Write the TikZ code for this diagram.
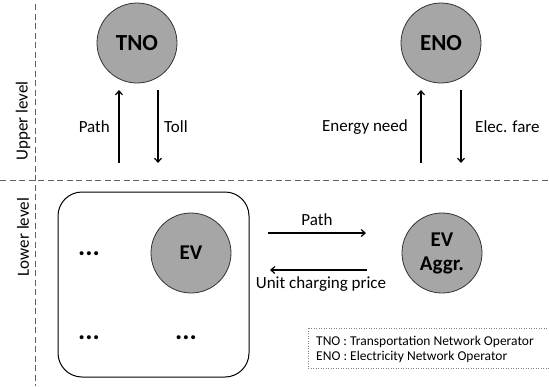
\documentclass[tikz,border=0pt]{standalone}
\usepackage{fontspec}
\setmainfont{Carlito}
\usetikzlibrary{arrows.meta}
\definecolor{nodegray}{HTML}{A6A6A6}
\definecolor{dashgray}{HTML}{606060}
\tikzset{
  opnode/.style={circle, draw=black!80, line width=0.8pt, fill=nodegray, minimum size=80pt, inner sep=0pt, align=center, font=\fontsize{23}{21}\selectfont\bfseries},
  evnode/.style={opnode, font=\fontsize{21}{24}\selectfont\bfseries},
  lbl/.style={inner sep=0pt, font=\fontsize{17}{20}\selectfont},
  legtxt/.style={inner sep=0pt, font=\fontsize{13.5}{15}\selectfont},
  dotstxt/.style={inner sep=0pt, font=\fontsize{27}{27}\selectfont\bfseries},
  arr/.style={line width=1.2pt, -{Straight Barb[length=4pt,width=7pt]}},
  divider/.style={dashgray, line width=1pt, dash pattern=on 6pt off 3.5pt},
  groupbox/.style={draw=black, line width=1pt, rounded corners=24pt},
  legendbox/.style={draw=gray, line width=0.5pt, dotted}
}
\begin{document}
\begin{tikzpicture}[x=1pt,y=-1pt]
\path[use as bounding box] (0,0) rectangle (549,386);
% dividers
\draw[divider] (35,4) -- (35,386);
\draw[divider] (0,180) -- (549,180);
\node[lbl, rotate=90] (upper) at (23,121) {Upper level};
\node[lbl, rotate=90] (lower) at (23,237) {Lower level};
% upper nodes
\node[opnode] (TNO) at (137,43) {TNO};
\node[opnode] (ENO) at (441,43) {ENO};
% vertical arrows
\coordinate (tpb) at (119,163); \coordinate (tpt) at (119,90);
\coordinate (ttt) at (158,90);  \coordinate (ttb) at (158,163);
\coordinate (epb) at (421,163); \coordinate (ept) at (421,90);
\coordinate (eft) at (461,90);  \coordinate (efb) at (461,163);
\draw[arr] (tpb) -- (tpt);
\draw[arr] (ttt) -- (ttb);
\draw[arr] (epb) -- (ept);
\draw[arr] (eft) -- (efb);
\node[lbl, anchor=east] (lpath) at (110,127) {Path};
\node[lbl, anchor=west] (ltoll) at (164,127) {Toll};
\node[lbl, anchor=east] (lneed) at (408,127) {Energy need};
\node[lbl, anchor=west] (lfare) at (475,127) {Elec. fare};
% lower level
\draw[groupbox] (58,192) rectangle (249,377);
\node[evnode] (EV) at (191,253) {EV};
\node[dotstxt] (d1) at (89,254) {...};
\node[dotstxt] (d2) at (89,338) {...};
\node[dotstxt] (d3) at (186,338) {...};
\node[evnode] (AGG) at (442,253) {EV\\Aggr.};
\coordinate (hpa) at (268,233); \coordinate (hpb) at (366,233);
\coordinate (hua) at (367,270); \coordinate (hub) at (270,270);
\draw[arr] (hpa) -- (hpb);
\draw[arr] (hua) -- (hub);
\node[lbl] (lhpath) at (317,220) {Path};
\node[lbl] (lunit) at (321,284) {Unit charging price};
% legend
\draw[legendbox] (308,328) rectangle (551,368);
\node[legtxt, anchor=base west] (leg1) at (316,345) {TNO : Transportation Network Operator};
\node[legtxt, anchor=base west] (leg2) at (316,360) {ENO : Electricity Network Operator};
\end{tikzpicture}
\end{document}
